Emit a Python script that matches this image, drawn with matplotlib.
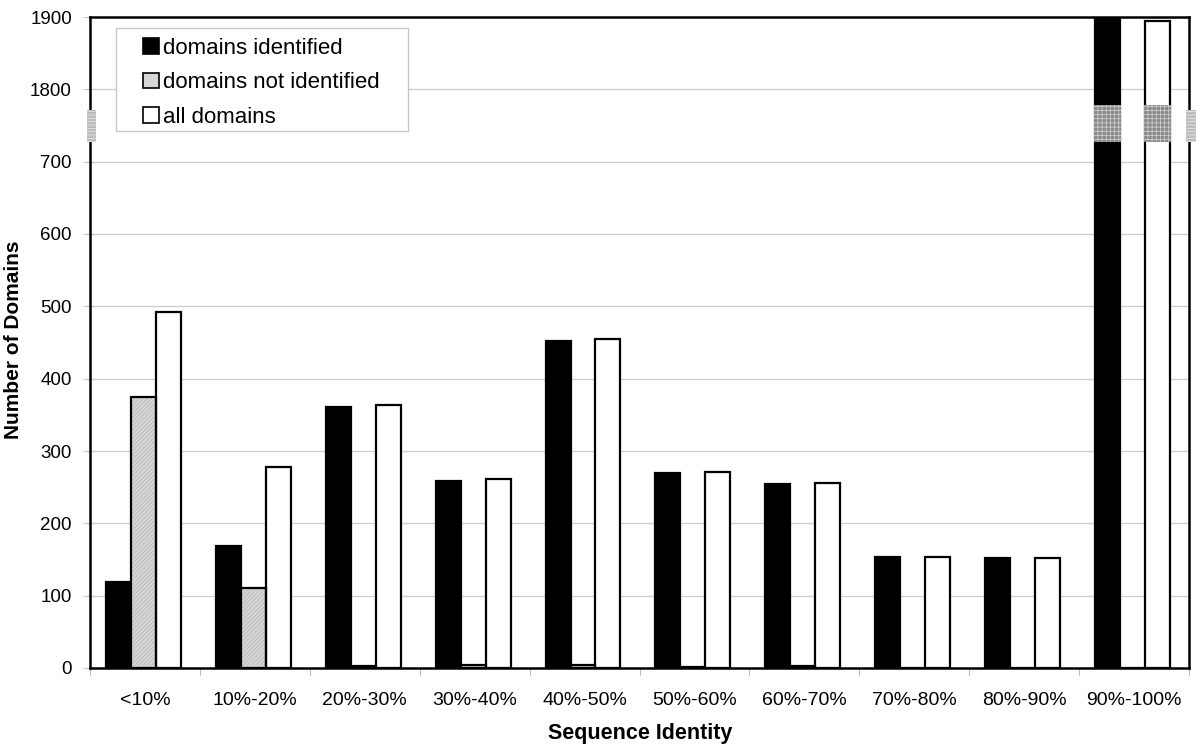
import numpy as np
import matplotlib
matplotlib.use("Agg")
import matplotlib.pyplot as plt
from matplotlib.patches import Rectangle, Patch
from matplotlib.transforms import blended_transform_factory

plt.rcParams['font.family'] = ['Liberation Sans', 'DejaVu Sans']
plt.rcParams['hatch.linewidth'] = 0.5

categories = ['<10%', '10%-20%', '20%-30%', '30%-40%', '40%-50%',
              '50%-60%', '60%-70%', '70%-80%', '80%-90%', '90%-100%']
identified = [119, 168, 361, 258, 452, 270, 255, 154, 152, 1920]
not_identified = [374, 110, 3, 4, 4, 1, 3, 0, 0, 0]
all_domains = [492, 278, 363, 261, 455, 271, 256, 154, 152, 1895]
series_labels = ['domains identified', 'domains not identified', 'all domains']
ytick_values = [0, 100, 200, 300, 400, 500, 600, 700, 1800, 1900]

BREAK_LOW, BREAK_SHIFT = 750, 1000


def brk(v):
    v = np.asarray(v, dtype=float)
    return np.where(v <= BREAK_LOW, v, v - BREAK_SHIFT)


fig = plt.figure(figsize=(12, 7.51), dpi=100)
W, H = 1200, 751
L, R, B, T = 90, 1189, 668, 17
ax = fig.add_axes([L / W, 1 - B / H, (R - L) / W, (B - T) / H])

x = np.arange(len(categories))
bw = 0.227
offs = [-0.241, -0.014, 0.213]
grey = '#d6d6d6'
lw = 1.6

ax.bar(x + offs[0], brk(identified), bw, color='black', edgecolor='black',
       linewidth=lw, zorder=2)
ax.bar(x + offs[1], brk(not_identified), bw, color=grey, edgecolor='#b4b4b4',
       hatch='////////', linewidth=0, zorder=2)
ax.bar(x + offs[1], brk(not_identified), bw, fill=False, edgecolor='black',
       linewidth=lw, zorder=2.1)
ax.bar(x + offs[2], brk(all_domains), bw, color='white', edgecolor='black',
       linewidth=lw, zorder=2)

ax.set_xlim(-0.5, len(categories) - 0.5)
ax.set_ylim(0, 900)
ax.set_yticks(brk(ytick_values))
ax.set_yticklabels([str(v) for v in ytick_values], fontsize=13.5)
ax.set_xticks(x)
ax.set_xticklabels(categories, fontsize=14)
ax.set_xticks(np.arange(len(categories) + 1) - 0.5, minor=True)
ax.tick_params(axis='x', which='major', length=0, pad=17.5)
ax.tick_params(axis='x', which='minor', length=5, color='#b8b8b8', width=0.8)
ax.tick_params(axis='y', length=5, color='#c8c8c8', width=0.8, pad=8)

ax.yaxis.grid(True, color='#cccccc', linewidth=0.9)
ax.set_axisbelow(True)
for s in ax.spines.values():
    s.set_color('black')
    s.set_linewidth(1.8)

ax.set_xlabel('Sequence Identity', fontsize=15.5, fontweight='bold', va='center')
ax.xaxis.set_label_coords((640 - L) / (R - L), (B - 733) / (B - T))
ax.set_ylabel('Number of Domains', fontsize=15, fontweight='bold', va='center')
ax.yaxis.set_label_coords((14 - L) / (R - L), (B - 340) / (B - T))

# axis break markers on spines
bt = blended_transform_factory(ax.transAxes, ax.transData)
lo, hi = brk(1727), brk(1771)
for x0, x1 in [(87, 96), (1186, 1196)]:
    ax.add_patch(Rectangle(((x0 - L) / (R - L), lo), (x1 - x0) / (R - L), hi - lo,
                           transform=bt, facecolor='#bdbdbd', edgecolor='#ececec',
                           hatch='-----', linewidth=0, clip_on=False, zorder=6))

# break markers on the tall bars
tall = np.where(np.asarray(all_domains) > BREAK_LOW)[0]
hi2 = brk(1778)
for i in tall:
    for k in (0, 2):
        cx = x[i] + offs[k]
        ax.add_patch(Rectangle((cx - bw / 2 - 0.012, lo), bw + 0.024, hi2 - lo,
                               facecolor='#8a8a8a', edgecolor='#d4d4d4',
                               hatch='++++', linewidth=0, zorder=6))

# legend frame
ax.add_patch(Rectangle(((116 - L) / (R - L), (B - 131) / (B - T)),
                       (408 - 116) / (R - L), (131 - 28) / (B - T),
                       transform=ax.transAxes, facecolor='white',
                       edgecolor='#c4c4c4', linewidth=0.9, zorder=4))
handles = [Patch(facecolor='black', edgecolor='black', linewidth=1.2),
           Patch(facecolor=grey, edgecolor='black', linewidth=1.2),
           Patch(facecolor='white', edgecolor='black', linewidth=1.2)]
leg = ax.legend(handles, series_labels, loc='upper left', frameon=False,
                bbox_to_anchor=((143 - L) / (R - L), (B - 38) / (B - T)),
                borderpad=0, borderaxespad=0, fontsize=16,
                handlelength=0.7, handleheight=0.7, handletextpad=0.22,
                labelspacing=0.6)
leg.set_zorder(5)

fig.savefig('out.png', dpi=100)
